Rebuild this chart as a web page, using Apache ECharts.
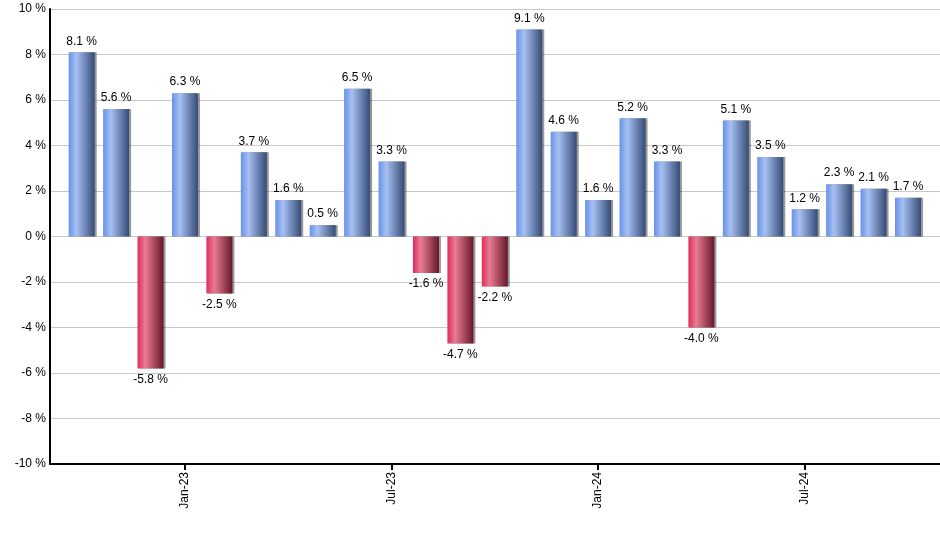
<!DOCTYPE html>
<html>
<head>
<meta charset="utf-8">
<script src="https://cdn.jsdelivr.net/npm/echarts@6/dist/echarts.min.js"></script>
<style>
  html, body { margin: 0; padding: 0; background: #fff; }
  #chart { width: 940px; height: 550px; }
</style>
</head>
<body>
<div id="chart"></div>
<script>
// monthly returns, Oct-22 .. Oct-24
const months = [
  'Oct-22', 'Nov-22', 'Dec-22', 'Jan-23', 'Feb-23', 'Mar-23', 'Apr-23', 'May-23', 'Jun-23',
  'Jul-23', 'Aug-23', 'Sep-23', 'Oct-23', 'Nov-23', 'Dec-23', 'Jan-24', 'Feb-24', 'Mar-24',
  'Apr-24', 'May-24', 'Jun-24', 'Jul-24', 'Aug-24', 'Sep-24', 'Oct-24'
]
const returns = [
  8.1, 5.6, -5.8, 6.3, -2.5, 3.7, 1.6, 0.5, 6.5,
  3.3, -1.6, -4.7, -2.2, 9.1, 4.6, 1.6, 5.2, 3.3,
  -4.0, 5.1, 3.5, 1.2, 2.3, 2.1, 1.7
]
const tickIndexes = [3, 9, 15, 21]

const font = 'Liberation Sans, Arial, sans-serif'

const blueFill = new echarts.graphic.LinearGradient(0, 0, 1, 0, [
  { offset: 0, color: '#6892e8' },
  { offset: 0.3, color: '#a6c0f2' },
  { offset: 1, color: '#364b76' }
])
const redFill = new echarts.graphic.LinearGradient(0, 0, 1, 0, [
  { offset: 0, color: '#e02c56' },
  { offset: 0.3, color: '#e87c94' },
  { offset: 1, color: '#681629' }
])

const barData = returns.map((v, i) => ({
  value: [i, v],
  itemStyle: { color: v >= 0 ? blueFill : redFill },
  label: { position: v >= 0 ? 'top' : 'bottom' }
}))

const chart = echarts.init(document.getElementById('chart'))
chart.setOption({
  animation: false,
  grid: { left: 50, right: 0, top: 9, bottom: 86 },
  xAxis: {
    type: 'value',
    min: -0.92,
    max: 24.93,
    axisLine: { onZero: false, lineStyle: { color: '#000', width: 2 } },
    axisTick: { show: true, customValues: tickIndexes, length: 6, lineStyle: { color: '#000', width: 2 } },
    axisLabel: {
      customValues: tickIndexes,
      rotate: 90,
      margin: 8,
      color: '#000',
      fontFamily: font,
      fontSize: 12,
      formatter: v => months[Math.round(v)]
    },
    splitLine: { show: false }
  },
  yAxis: {
    type: 'value',
    min: -10,
    max: 10,
    interval: 2,
    axisLine: { show: true, onZero: false, lineStyle: { color: '#000', width: 2 } },
    axisTick: { show: false },
    axisLabel: {
      color: '#000',
      fontFamily: font,
      fontSize: 12,
      margin: 4,
      formatter: '{value} %'
    },
    splitLine: { lineStyle: { color: '#c8c8c8', width: 1 } }
  },
  series: [{
    type: 'bar',
    barWidth: 26,
    data: barData,
    itemStyle: {
      shadowColor: 'rgba(0,0,0,0.4)',
      shadowOffsetX: 2,
      shadowBlur: 0
    },
    label: {
      show: true,
      distance: 5,
      color: '#000',
      fontFamily: font,
      fontSize: 12,
      formatter: p => p.value[1].toFixed(1) + ' %'
    }
  }]
})
</script>
</body>
</html>
